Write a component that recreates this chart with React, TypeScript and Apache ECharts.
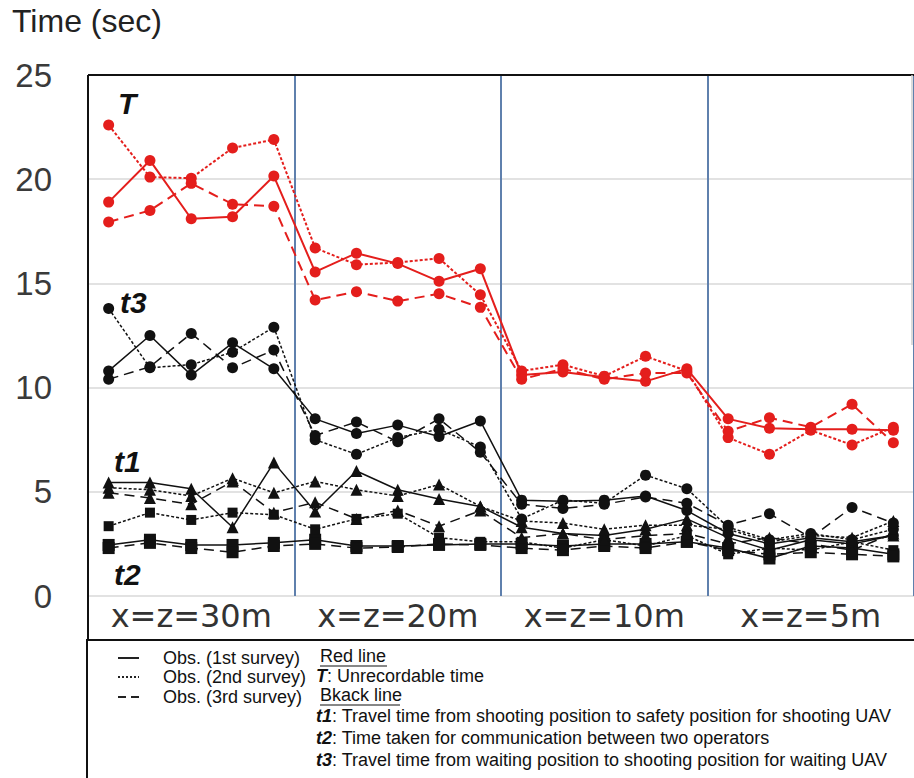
import React, { useEffect, useRef } from "react";
import * as echarts from "echarts";

const points: string[] = Array.from({ length: 20 }, (_, i) => `P${i + 1}`);
const groupLabels = ["x=z=30m", "x=z=20m", "x=z=10m", "x=z=5m"];
const yTicks = [0, 5, 10, 15, 20, 25];

const T_1st = [18.9, 20.9, 18.1, 18.2, 20.15, 15.55, 16.45, 15.95, 15.1, 15.7, 10.6, 10.75, 10.5, 10.3, 10.9, 8.5, 8.05, 8.0, 8.0, 7.95];
const T_2nd = [22.6, 20.1, 20.05, 21.5, 21.9, 16.7, 15.9, 16.0, 16.2, 14.45, 10.8, 11.1, 10.55, 11.5, 10.8, 7.6, 6.8, 7.95, 7.25, 8.1];
const T_3rd = [17.95, 18.5, 19.8, 18.8, 18.7, 14.2, 14.6, 14.15, 14.5, 13.85, 10.4, 10.9, 10.4, 10.7, 10.7, 7.9, 8.55, 8.1, 9.2, 7.35];

const t3_1st = [10.8, 12.5, 10.6, 12.15, 10.9, 8.5, 7.8, 8.2, 7.65, 8.4, 4.6, 4.55, 4.6, 4.8, 4.1, 3.0, 2.5, 2.8, 2.6, 2.9];
const t3_2nd = [13.8, 10.95, 11.1, 11.7, 12.9, 7.5, 6.8, 7.6, 8.0, 7.15, 3.7, 4.6, 4.45, 5.8, 5.15, 3.3, 2.7, 3.0, 2.7, 3.2];
const t3_3rd = [10.4, 11.0, 12.6, 10.95, 11.8, 7.7, 8.35, 7.4, 8.5, 6.9, 4.4, 4.2, 4.4, 4.75, 4.45, 3.4, 3.95, 2.8, 4.25, 3.5];

const t1_1st = [5.45, 5.45, 5.15, 3.3, 6.4, 4.05, 6.0, 5.1, 4.65, 4.3, 3.3, 3.0, 2.9, 3.2, 3.7, 2.8, 2.2, 2.7, 2.5, 2.9];
const t1_2nd = [5.2, 5.1, 4.8, 5.65, 4.95, 5.5, 5.1, 4.8, 5.35, 4.3, 3.6, 3.5, 3.2, 3.4, 3.4, 3.2, 2.6, 2.9, 2.8, 3.6];
const t1_3rd = [4.95, 4.7, 4.4, 5.5, 4.0, 4.5, 3.7, 4.1, 3.35, 4.1, 2.8, 3.0, 2.7, 2.9, 3.0, 2.5, 2.8, 2.5, 2.2, 3.0];

const t2_1st = [2.45, 2.7, 2.45, 2.45, 2.55, 2.7, 2.4, 2.4, 2.45, 2.5, 2.5, 2.4, 2.5, 2.5, 2.6, 2.3, 1.8, 2.4, 2.3, 2.0];
const t2_2nd = [3.35, 4.0, 3.65, 4.0, 3.9, 3.2, 3.7, 3.95, 2.8, 2.6, 2.6, 2.3, 2.7, 2.4, 2.9, 2.0, 2.3, 2.2, 2.6, 2.2];
const t2_3rd = [2.3, 2.55, 2.3, 2.1, 2.4, 2.5, 2.3, 2.35, 2.5, 2.45, 2.3, 2.2, 2.4, 2.3, 2.6, 2.2, 2.0, 2.1, 2.0, 1.9];

const RED = "#e41e1c";
const BLACK = "#111111";
const SANS = "'Liberation Sans', Arial, sans-serif";

function styleFor(survey: number): any {
  if (survey === 0) return { type: "solid" };
  if (survey === 1) return { type: [3, 2] };
  return { type: [10, 6] };
}

function mk(name: string, data: number[], color: string, survey: number, symbol: string, size: number, width: number) {
  return {
    name,
    type: "line",
    data,
    xAxisIndex: 0,
    symbol,
    symbolSize: size,
    showSymbol: true,
    itemStyle: { color },
    lineStyle: { color, width, ...styleFor(survey) },
    z: 3,
  };
}

export default function App() {
  const ref = useRef<HTMLDivElement>(null);
  useEffect(() => {
    if (!ref.current) return;
    const chart = echarts.init(ref.current, undefined, { renderer: "svg" });
    const series = [
      mk("t2 1st", t2_1st, BLACK, 0, "rect", 12, 1.5),
      mk("t2 2nd", t2_2nd, BLACK, 1, "rect", 10, 1.5),
      mk("t2 3rd", t2_3rd, BLACK, 2, "rect", 12, 1.5),
      mk("t1 1st", t1_1st, BLACK, 0, "triangle", 12, 1.5),
      mk("t1 2nd", t1_2nd, BLACK, 1, "triangle", 12, 1.5),
      mk("t1 3rd", t1_3rd, BLACK, 2, "triangle", 12, 1.5),
      mk("t3 1st", t3_1st, BLACK, 0, "circle", 11, 1.5),
      mk("t3 2nd", t3_2nd, BLACK, 1, "circle", 11, 1.5),
      mk("t3 3rd", t3_3rd, BLACK, 2, "circle", 11, 1.5),
      mk("T 1st", T_1st, RED, 0, "circle", 11, 2),
      mk("T 2nd", T_2nd, RED, 1, "circle", 11, 2),
      mk("T 3rd", T_3rd, RED, 2, "circle", 11, 2),
    ];
    const FS = 18;
    const legendText = { fontSize: FS, fontFamily: SANS, fill: "#111", verticalAlign: "middle" };
    const bi = { fontWeight: "bold", fontStyle: "italic", fontSize: FS, fontFamily: SANS, fill: "#111" };
    const ann = { fontSize: 30, fontWeight: "bold", fontStyle: "italic", fontFamily: SANS, fill: "#111", verticalAlign: "middle" };
    chart.setOption({
      animation: false,
      backgroundColor: "#ffffff",
      grid: { left: 88, top: 75, right: 0, height: 521 },
      xAxis: [
        {
          type: "category",
          data: points,
          boundaryGap: true,
          axisLine: { show: false },
          axisTick: { show: false },
          axisLabel: { show: false },
          splitLine: {
            show: true,
            interval: (i: number) => i > 0 && i % 5 === 0,
            lineStyle: { color: "#5f80ad", width: 2 },
          },
        },
        {
          type: "category",
          data: groupLabels,
          position: "bottom",
          boundaryGap: true,
          axisLine: { show: false },
          axisTick: { show: false },
          splitLine: { show: false },
          axisLabel: { interval: 0, hideOverlap: false, fontSize: 32, fontFamily: "'DejaVu Sans', sans-serif", color: "#333", margin: 4 },
        },
      ],
      yAxis: {
        type: "value",
        min: yTicks[0],
        max: yTicks[yTicks.length - 1],
        interval: 5,
        axisLine: { show: false },
        axisTick: { show: false },
        axisLabel: { fontSize: 33, fontFamily: SANS, color: "#3a3a3a", margin: 36 },
        splitLine: { show: true, lineStyle: { color: "#e2e2e2", width: 2 } },
      },
      series,
      graphic: [
        { type: "text", left: 12, top: 5, style: { text: "Time (sec)", fontSize: 32, fontFamily: SANS, fill: "#222" } },
        { type: "line", shape: { x1: 88, y1: 75, x2: 914, y2: 75 }, style: { stroke: "#111", lineWidth: 2 }, z: 10 },
        { type: "line", shape: { x1: 88, y1: 75, x2: 88, y2: 641 }, style: { stroke: "#111", lineWidth: 2 }, z: 10 },
        { type: "line", shape: { x1: 912, y1: 75, x2: 912, y2: 345 }, style: { stroke: "#cfcfcf", lineWidth: 1.5 }, z: 10 },
        { type: "text", x: 118, y: 103, style: { text: "T", ...ann }, z: 10 },
        { type: "text", x: 120, y: 302, style: { text: "t3", ...ann }, z: 10 },
        { type: "text", x: 114, y: 461, style: { text: "t1", ...ann }, z: 10 },
        { type: "text", x: 114, y: 574, style: { text: "t2", ...ann }, z: 10 },
        { type: "rect", shape: { x: 87, y: 640, width: 860, height: 160 }, style: { fill: "none", stroke: "#111", lineWidth: 2 }, z: 10 },
        { type: "line", shape: { x1: 118, y1: 658, x2: 139, y2: 658 }, style: { stroke: "#222", lineWidth: 2 }, z: 10 },
        { type: "line", shape: { x1: 118, y1: 677, x2: 139, y2: 677 }, style: { stroke: "#222", lineWidth: 2, lineDash: [2, 2] }, z: 10 },
        { type: "line", shape: { x1: 118, y1: 697, x2: 139, y2: 697 }, style: { stroke: "#222", lineWidth: 2, lineDash: [8, 5] }, z: 10 },
        { type: "text", x: 163, y: 658, style: { text: "Obs. (1st survey)", ...legendText }, z: 10 },
        { type: "text", x: 163, y: 677, style: { text: "Obs. (2nd survey)", ...legendText }, z: 10 },
        { type: "text", x: 163, y: 697, style: { text: "Obs. (3rd survey)", ...legendText }, z: 10 },
        { type: "text", x: 320, y: 656, style: { text: "Red line", ...legendText }, z: 10 },
        { type: "line", shape: { x1: 320, y1: 666, x2: 387, y2: 666 }, style: { stroke: "#111", lineWidth: 1.2 }, z: 10 },
        { type: "text", x: 316, y: 676, style: { text: "{b|T}: Unrecordable time", ...legendText, rich: { b: bi } }, z: 10 },
        { type: "text", x: 320, y: 695, style: { text: "Bkack line", ...legendText }, z: 10 },
        { type: "line", shape: { x1: 320, y1: 705, x2: 400, y2: 705 }, style: { stroke: "#111", lineWidth: 1.2 }, z: 10 },
        { type: "text", x: 316, y: 716, style: { text: "{b|t1}: Travel time from shooting position to safety position for shooting UAV", ...legendText, rich: { b: bi } }, z: 10 },
        { type: "text", x: 316, y: 738, style: { text: "{b|t2}: Time taken for communication between two operators", ...legendText, rich: { b: bi } }, z: 10 },
        { type: "text", x: 316, y: 760, style: { text: "{b|t3}: Travel time from waiting position to shooting position for waiting UAV", ...legendText, rich: { b: bi } }, z: 10 },
      ],
    });
    return () => chart.dispose();
  }, []);
  return <div ref={ref} style={{ position: "fixed", left: 0, top: 0, width: 914, height: 778 }} />;
}
